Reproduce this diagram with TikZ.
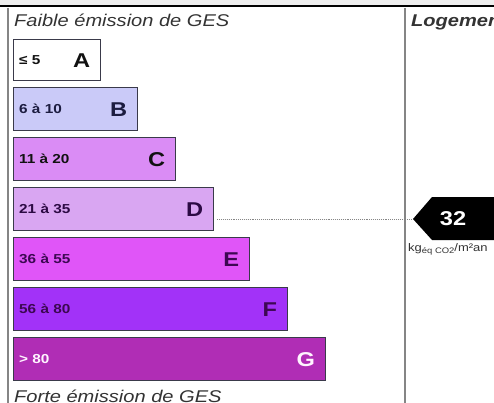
\documentclass[tikz,border=0pt]{standalone}
\usepackage{fontspec}
\setmainfont{Liberation Sans}[FakeStretch=1.18]
\usetikzlibrary{positioning}

\definecolor{stripgray}{HTML}{EEEEEE}
\definecolor{framegray}{HTML}{858585}
\definecolor{barline}{HTML}{3A3A4A}
\definecolor{titlegray}{HTML}{333333}
\definecolor{gesA}{HTML}{FFFFFF}
\definecolor{gesB}{HTML}{CACAF8}
\definecolor{gesC}{HTML}{DA8CF5}
\definecolor{gesD}{HTML}{D9A6F2}
\definecolor{gesE}{HTML}{E055F8}
\definecolor{gesF}{HTML}{A232F8}
\definecolor{gesG}{HTML}{B02DB5}
\definecolor{inkA}{HTML}{111111}
\definecolor{inkB}{HTML}{1C1C40}
\definecolor{inkD}{HTML}{2C0A44}
\definecolor{inkE}{HTML}{3C0852}
\definecolor{inkG}{HTML}{FFF4FF}

\begin{document}
\begin{tikzpicture}[x=1pt,y=-1pt,
  bar/.style={draw=barline, line width=1.3pt, anchor=north west, inner sep=0pt},
  plage/.style={anchor=west, inner sep=0pt, font=\fontsize{13}{13}\selectfont\bfseries},
  classe/.style={anchor=east, inner sep=0pt, font=\fontsize{20}{20}\selectfont\bfseries},
  titre/.style={anchor=base west, inner sep=0pt, text=titlegray, font=\fontsize{17}{17}\selectfont\itshape}]
	\useasboundingbox (0,0) rectangle (494,403);
	\clip (0,0) rectangle (494,403);
	% frame
	\fill[stripgray] (0,0) rectangle (494,5);
	\fill[black] (0,5) rectangle (494,7.5);
	\draw[framegray, line width=1.5pt] (8,8) -- (8,403);
	\draw[framegray, line width=1.5pt] (405,8) -- (405,403);
	\node[titre] (faible) at (14,27) {Faible émission de GES};
	\node[titre] (forte) at (14,402) {Forte émission de GES};
	\node[titre, font=\fontsize{17}{17}\selectfont\bfseries\itshape] (logement) at (411,27) {Logement};
	% classes
	\foreach \l/\w/\t/\h/\v/\k in {A/87/39/41/≤ 5/inkA, B/124/87/43/6 à 10/inkB,
	    C/162/137/43/11 à 20/inkA, D/200/187/43/21 à 35/inkD, E/236/237/43/36 à 55/inkE,
	    F/274/287/43/56 à 80/inkE, G/312/337/43/> 80/inkG} {
		\node[bar, fill=ges\l, minimum width=\w pt, minimum height=\h pt] (bar\l) at (13,\t) {};
		\node[plage, text=\k] (rg\l) at ([xshift=6pt]bar\l.west) {\v};
		\node[classe, text=\k] (lt\l) at ([xshift=-11pt]bar\l.east) {\l};
	}
	% value
	\coordinate (pointe) at (413,219);
	\fill[black] (pointe) -- (432,197) -- (500,197) -- (500,240) -- (432,240) -- cycle;
	\node[text=white, font=\fontsize{20}{20}\selectfont\bfseries] (valeur) at (453,219) {32};
	\draw[framegray, densely dotted, line width=0.9pt] ([xshift=3pt]barD.east |- pointe) -- (pointe);
	\node[anchor=base west, inner sep=0pt, font=\fontsize{11}{11}\selectfont, text=titlegray] (unite) at (408,251)
	  {kg\raisebox{-2.5pt}{\fontsize{8}{8}\selectfont éq CO2}/m²an};
\end{tikzpicture}
\end{document}
